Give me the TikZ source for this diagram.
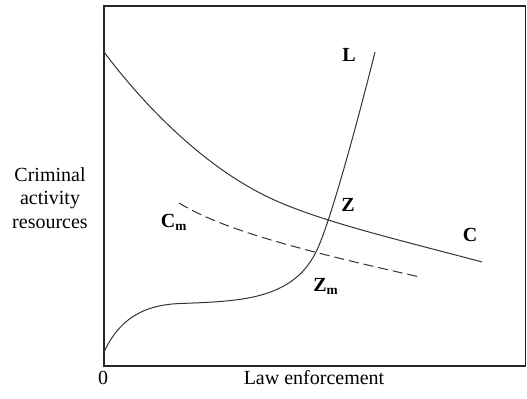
\documentclass[tikz,border=0pt]{standalone}
\usepackage{fontspec}
\setmainfont{Liberation Serif}
\usetikzlibrary{positioning}

\begin{document}
\begin{tikzpicture}[
	x=0.6pt, y=-0.6pt,
	frame/.style={draw=black!85, line width=0.7pt},
	curve/.style={draw=black!80, line width=0.6pt},
	dashcurve/.style={curve, dash pattern=on 6pt off 3pt},
	lab/.style={font=\fontsize{12}{14}\selectfont\bfseries, inner sep=0pt},
	axislab/.style={font=\fontsize{12}{14}\selectfont, align=center, inner sep=0pt}
]
\useasboundingbox (0,0) rectangle (527,398);

\draw[frame] (104,6) rectangle (525.5,366);

% C curve
\draw[curve] (104,52) .. controls (140,100) and (200,165) .. (270,198)
	.. controls (320,221.6) and (400,240) .. (482,262);
% Cm curve
\draw[dashcurve] (179,203) .. controls (220,228) and (290,248) .. (420,277);
% L curve
\draw[curve] (104,352) .. controls (118,322) and (140,305) .. (180,303.5)
	.. controls (240,301.25) and (292,300) .. (316,252)
	.. controls (330,224) and (358,120) .. (375,52);

\node[lab] (lL) at (349,55) {L};
\node[lab] (lZ) at (348,205) {Z};
\node[lab] (lC) at (470,235) {C};
\node[lab] (lCm) at (174,222) {C\textsubscript{m}};
\node[lab] (lZm) at (326,286) {Z\textsubscript{m}};

\node[axislab] (orig) at (103,378) {0};
\node[axislab] (xlab) at (314,378) {Law enforcement};
\node[axislab, text width=90pt] (ylab) at (50,198) {Criminal\\activity\\resources};
\end{tikzpicture}
\end{document}
